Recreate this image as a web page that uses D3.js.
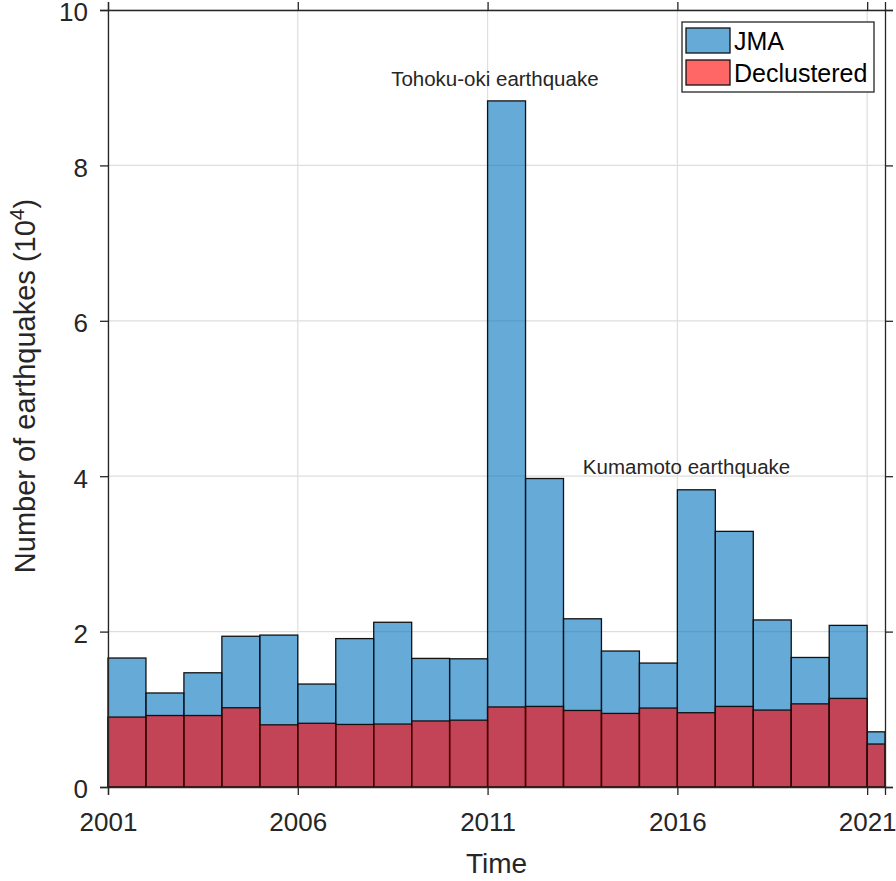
<!DOCTYPE html>
<html>
<head>
<meta charset="utf-8">
<script src="https://cdn.jsdelivr.net/npm/d3@7"></script>
<style>
    body { margin: 0; background: #ffffff; }
    text { font-family: "Liberation Sans", Arial, Helvetica, sans-serif; fill: #262626; }
</style>
</head>
<body>
<script>
//yearly bins, the last one is a partial year
var binEdges = [2001, 2002, 2003, 2004, 2005, 2006, 2007, 2008, 2009, 2010, 2011,
    2012, 2013, 2014, 2015, 2016, 2017, 2018, 2019, 2020, 2021, 2021.47];

//number of earthquakes per bin, in units of 10^4
var jmaCounts = [1.66, 1.21, 1.47, 1.94, 1.955, 1.325, 1.91, 2.12, 1.655, 1.65, 8.83,
    3.97, 2.165, 1.75, 1.595, 3.825, 3.29, 2.15, 1.667, 2.08, 0.71];
var declusteredCounts = [0.90, 0.92, 0.92, 1.02, 0.80, 0.82, 0.805, 0.81, 0.85, 0.86, 1.03,
    1.037, 0.985, 0.947, 1.016, 0.956, 1.037, 0.99, 1.07, 1.14, 0.553];

//tick labels
var xTicks = [2001, 2006, 2011, 2016, 2021];
var yTicks = [0, 2, 4, 6, 8, 10];

//annotations
var notes = [
    { label: "Tohoku-oki earthquake", year: 2008.46, value: 9.02 },
    { label: "Kumamoto earthquake", year: 2013.51, value: 4.03 }
];

var seriesNames = ["JMA", "Declustered"];

window.onload = function(){
    var w = 896, h = 881;
    var left = 108, right = 885, top = 10, bottom = 787;

    var svg = d3.select("body")
        .append("svg")
        .attr("width", w)
        .attr("height", h);

    var x = d3.scaleLinear()
        .domain([binEdges[0], binEdges[binEdges.length - 1]])
        .range([left, right]);

    var y = d3.scaleLinear()
        .domain([0, 10])
        .range([bottom, top]);

    //grid lines first, bars are transparent so they show through
    var grid = svg.append("g").attr("class", "grid");
    grid.selectAll(".vgrid")
        .data(xTicks)
        .enter()
        .append("line")
        .attr("x1", function(d){ return x(d); })
        .attr("x2", function(d){ return x(d); })
        .attr("y1", top)
        .attr("y2", bottom)
        .style("stroke", "#dedede")
        .style("stroke-width", 1.2);
    grid.selectAll(".hgrid")
        .data(yTicks)
        .enter()
        .append("line")
        .attr("x1", left)
        .attr("x2", right)
        .attr("y1", function(d){ return y(d); })
        .attr("y2", function(d){ return y(d); })
        .style("stroke", "#dedede")
        .style("stroke-width", 1.2);

    //draw one histogram
    function drawBars(counts, color, cls){
        svg.append("g").selectAll("." + cls)
            .data(counts)
            .enter()
            .append("rect")
            .attr("class", cls)
            .attr("x", function(d, i){ return x(binEdges[i]); })
            .attr("width", function(d, i){ return x(binEdges[i + 1]) - x(binEdges[i]); })
            .attr("y", function(d){ return y(d); })
            .attr("height", function(d){ return y(0) - y(d); })
            .style("fill", color)
            .style("fill-opacity", 0.6)
            .style("stroke", "#111111")
            .style("stroke-width", 1.3);
    }
    drawBars(jmaCounts, "rgb(0,114,189)", "jma");
    drawBars(declusteredCounts, "rgb(255,0,0)", "declustered");

    //axes with ticks pointing out on all four sides
    var axisColor = "#262626";
    var tickLen = 8;

    svg.append("g")
        .attr("transform", "translate(0," + bottom + ")")
        .call(d3.axisBottom(x).tickValues(xTicks).tickFormat(d3.format("d")).tickSizeOuter(0).tickSize(tickLen).tickPadding(18))
        .call(function(g){
            g.select(".domain").style("stroke", axisColor).style("stroke-width", 1.3);
            g.selectAll(".tick line").style("stroke", axisColor).style("stroke-width", 1.3);
            g.selectAll(".tick text").style("font-size", "26px").style("fill", "#262626")
                .style("font-family", "'Liberation Sans', Arial, sans-serif");
        });

    svg.append("g")
        .attr("transform", "translate(0," + top + ")")
        .call(d3.axisTop(x).tickValues(xTicks).tickFormat("").tickSizeOuter(0).tickSize(tickLen))
        .call(function(g){
            g.select(".domain").style("stroke", axisColor).style("stroke-width", 1.3);
            g.selectAll(".tick line").style("stroke", axisColor).style("stroke-width", 1.3);
        });

    svg.append("g")
        .attr("transform", "translate(" + left + ",0)")
        .call(d3.axisLeft(y).tickValues(yTicks).tickSizeOuter(0).tickSize(tickLen).tickPadding(12))
        .call(function(g){
            g.select(".domain").style("stroke", axisColor).style("stroke-width", 1.3);
            g.selectAll(".tick line").style("stroke", axisColor).style("stroke-width", 1.3);
            g.selectAll(".tick text").attr("dy", "0.42em")
                .style("font-size", "26px").style("fill", "#262626")
                .style("font-family", "'Liberation Sans', Arial, sans-serif");
        });

    svg.append("g")
        .attr("transform", "translate(" + right + ",0)")
        .call(d3.axisRight(y).tickValues(yTicks).tickFormat("").tickSizeOuter(0).tickSize(tickLen))
        .call(function(g){
            g.select(".domain").style("stroke", axisColor).style("stroke-width", 1.3);
            g.selectAll(".tick line").style("stroke", axisColor).style("stroke-width", 1.3);
        });

    //axis titles
    svg.append("text")
        .attr("x", (left + right) / 2)
        .attr("y", 873)
        .attr("text-anchor", "middle")
        .style("font-size", "28px")
        .text("Time");

    var yTitle = svg.append("text")
        .attr("transform", "translate(35,386) rotate(-90)")
        .attr("text-anchor", "middle")
        .style("font-size", "29px");
    yTitle.append("tspan").text("Number of earthquakes (10");
    yTitle.append("tspan").attr("dy", -11).style("font-size", "21px").text("4");
    yTitle.append("tspan").attr("dy", 11).text(")");

    //annotations
    svg.selectAll(".note")
        .data(notes)
        .enter()
        .append("text")
        .attr("class", "note")
        .attr("x", function(d){ return x(d.year); })
        .attr("y", function(d){ return y(d.value); })
        .style("font-size", "20.5px")
        .text(function(d){ return d.label; });

    //legend
    var legend = svg.append("g").attr("transform", "translate(682,22)");
    legend.append("rect")
        .attr("width", 192)
        .attr("height", 70)
        .style("fill", "#ffffff")
        .style("stroke", "#262626")
        .style("stroke-width", 1.3);

    var legendColors = ["rgb(0,114,189)", "rgb(255,0,0)"];
    var items = legend.selectAll(".item")
        .data(seriesNames)
        .enter()
        .append("g")
        .attr("class", "item")
        .attr("transform", function(d, i){ return "translate(0," + (i * 32) + ")"; });
    items.append("rect")
        .attr("x", 4)
        .attr("y", 6)
        .attr("width", 44)
        .attr("height", 25)
        .style("fill", function(d, i){ return legendColors[i]; })
        .style("fill-opacity", 0.6)
        .style("stroke", "#111111")
        .style("stroke-width", 1.3);
    items.append("text")
        .attr("x", 52)
        .attr("y", 28)
        .style("font-size", "25px")
        .style("fill", "#000000")
        .text(function(d){ return d; });
};
</script>
</body>
</html>
